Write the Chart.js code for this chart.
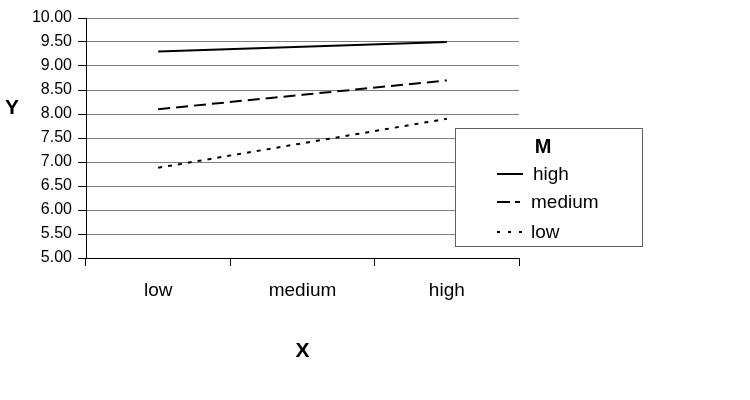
<!DOCTYPE html>
<html>
<head>
<meta charset="utf-8">
<script src="https://cdn.jsdelivr.net/npm/chart.js@4"></script>
<style>
  html, body { margin: 0; padding: 0; background: #fff; }
  #wrap { width: 750px; height: 400px; }
</style>
</head>
<body>
<div id="wrap"><canvas id="chart"></canvas></div>
<script>
// data
const categories = ['low', 'medium', 'high'];
const seriesNames = ['high', 'medium', 'low'];
const highValues = [9.30, 9.40, 9.50];
const mediumValues = [8.10, 8.40, 8.70];
const lowValues = [6.88, 7.39, 7.90];
const yMin = 5, yMax = 10, yStep = 0.5;

const dashes = [[], [12, 6], [4, 6]];
const legendDashes = [[], [13, 5, 5, 100], [3, 8]];

Chart.defaults.font.family = '"Liberation Sans", Arial, sans-serif';
Chart.defaults.color = '#000';

// legend box and Y title drawn by hand
const extras = {
    id: 'extras',
    afterDraw(chart) {
        const ctx = chart.ctx;
        ctx.save();
        // Y title, upright
        ctx.fillStyle = '#000';
        ctx.font = 'bold 21px "Liberation Sans", Arial, sans-serif';
        ctx.textAlign = 'center';
        ctx.textBaseline = 'middle';
        ctx.fillText('Y', 12, 108);

        // legend
        ctx.fillStyle = '#fff';
        ctx.fillRect(455.5, 128.5, 187, 118);
        ctx.strokeStyle = '#606060';
        ctx.lineWidth = 1;
        ctx.strokeRect(455.5, 128.5, 187, 118);
        ctx.fillStyle = '#000';
        ctx.font = 'bold 20px "Liberation Sans", Arial, sans-serif';
        ctx.fillText('M', 543, 147);
        ctx.font = '19px "Liberation Sans", Arial, sans-serif';
        ctx.textAlign = 'left';
        const rows = [174, 202, 232];
        chart.data.datasets.forEach((ds, i) => {
            const y = rows[i];
            ctx.beginPath();
            ctx.setLineDash(legendDashes[i]);
            ctx.strokeStyle = '#000';
            ctx.lineWidth = 2;
            ctx.moveTo(497, y);
            ctx.lineTo(523, y);
            ctx.stroke();
            ctx.setLineDash([]);
            ctx.fillText(ds.label, i === 0 ? 533 : 531, y + 1);
        });
        ctx.restore();
    }
};

const ctx = document.getElementById('chart').getContext('2d');
new Chart(ctx, {
    type: 'line',
    data: {
        labels: categories,
        datasets: [highValues, mediumValues, lowValues].map((vals, i) => ({
            label: seriesNames[i],
            data: vals,
            borderColor: '#000',
            borderWidth: 2,
            borderDash: dashes[i],
            pointRadius: 0,
            fill: false,
            tension: 0
        }))
    },
    options: {
        responsive: true,
        maintainAspectRatio: false,
        animation: false,
        layout: { padding: { left: 0, right: 231, top: 18, bottom: 0 } },
        plugins: {
            legend: { display: false },
            tooltip: { enabled: false }
        },
        scales: {
            x: {
                offset: true,
                grid: {
                    offset: true,
                    drawOnChartArea: false,
                    tickLength: 8,
                    color: '#000'
                },
                border: { color: '#000', width: 1 },
                ticks: { font: { size: 19 }, padding: 13, maxRotation: 0 },
                title: {
                    display: true,
                    text: 'X',
                    font: { size: 21, weight: 'bold' },
                    padding: { top: 0, bottom: 36 }
                },
                afterFit(scale) { scale.height = 142; }
            },
            y: {
                min: yMin,
                max: yMax,
                ticks: {
                    stepSize: yStep,
                    font: { size: 16 },
                    padding: 6,
                    callback: v => Number(v).toFixed(2)
                },
                grid: { color: '#808080', tickColor: '#000', tickLength: 8 },
                border: { color: '#000', width: 1 },
                afterFit(scale) { scale.width = 86; }
            }
        }
    },
    plugins: [extras]
});
</script>
</body>
</html>
